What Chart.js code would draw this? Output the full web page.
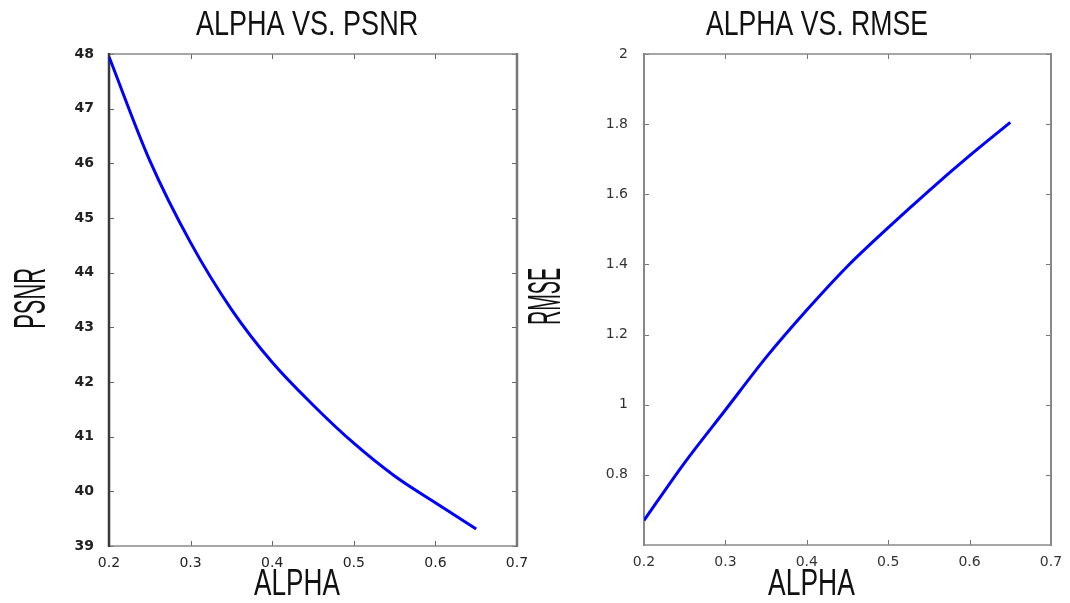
<!DOCTYPE html>
<html>
<head>
<meta charset="utf-8">
<script src="https://cdn.jsdelivr.net/npm/chart.js@4"></script>
<style>
  html, body { margin: 0; padding: 0; background: #fff; }
  #wrap { position: relative; width: 1070px; height: 603px; }
  .panel { position: absolute; top: 0; height: 603px; }
  #left { left: 0; width: 540px; }
  #right { left: 522px; width: 548px; }
</style>
</head>
<body>
<div id="wrap">
  <div class="panel" id="left"><canvas id="psnrChart" width="540" height="603"></canvas></div>
  <div class="panel" id="right"><canvas id="rmseChart" width="548" height="603"></canvas></div>
</div>
<script>
// alpha values and the two measured curves
const alpha = [0.2, 0.25, 0.3, 0.35, 0.4, 0.45, 0.5, 0.55, 0.6, 0.65];
const psnr = [47.95, 46.05, 44.55, 43.33, 42.36, 41.58, 40.88, 40.28, 39.79, 39.31];
const rmse = [0.67, 0.835, 0.985, 1.135, 1.27, 1.395, 1.505, 1.61, 1.71, 1.805];

const alphaTicks = [0.2, 0.3, 0.4, 0.5, 0.6, 0.7];
const psnrTicks = [39, 40, 41, 42, 43, 44, 45, 46, 47, 48];
const rmseTicks = [0.8, 1, 1.2, 1.4, 1.6, 1.8, 2];

const fmt = (v) => String(Number(v.toFixed(2)));

// text squeezed into a fixed box (narrow, tall lettering)
function drawStretched(ctx, text, cx, cy, w, h, rotate) {
  ctx.save();
  ctx.font = '100px "Liberation Sans Narrow", "Liberation Sans", Arial, sans-serif';
  ctx.textAlign = "left";
  ctx.textBaseline = "alphabetic";
  const m = ctx.measureText(text);
  const tw = m.actualBoundingBoxLeft + m.actualBoundingBoxRight;
  const th = m.actualBoundingBoxAscent;
  ctx.translate(cx, cy);
  if (rotate) ctx.rotate(-Math.PI / 2);
  ctx.scale(w / tw, h / th);
  ctx.fillStyle = "#111";
  ctx.fillText(text, -tw / 2 + m.actualBoundingBoxLeft, th / 2);
  ctx.restore();
}

// box round the plot with inward tick marks on all four sides
const framePlugin = {
  id: "frame",
  beforeDatasetsDraw(chart, args, opts) {
    const { ctx, chartArea: a, scales } = chart;
    ctx.save();
    ctx.strokeStyle = opts.tickColor;
    ctx.lineWidth = 1;
    const len = 5;
    scales.x.ticks.forEach(t => {
      const px = Math.round(scales.x.getPixelForValue(t.value)) + 0.5;
      ctx.beginPath();
      ctx.moveTo(px, a.bottom); ctx.lineTo(px, a.bottom - len);
      ctx.moveTo(px, a.top); ctx.lineTo(px, a.top + len);
      ctx.stroke();
    });
    scales.y.ticks.forEach(t => {
      const py = Math.round(scales.y.getPixelForValue(t.value)) + 0.5;
      ctx.beginPath();
      ctx.moveTo(a.left, py); ctx.lineTo(a.left + len, py);
      ctx.moveTo(a.right, py); ctx.lineTo(a.right - len, py);
      ctx.stroke();
    });
    const side = (x1, y1, x2, y2, color, w) => {
      ctx.strokeStyle = color;
      ctx.lineWidth = w;
      ctx.beginPath();
      ctx.moveTo(x1, y1); ctx.lineTo(x2, y2);
      ctx.stroke();
    };
    side(a.left, a.top, a.right, a.top, opts.hColor, opts.hWidth);
    side(a.left, a.bottom, a.right, a.bottom, opts.hColor, opts.hWidth);
    side(a.left, a.top - 1, a.left, a.bottom + 1, opts.leftColor, opts.vWidth);
    side(a.right, a.top - 1, a.right, a.bottom + 1, opts.rightColor, opts.vWidth);
    ctx.restore();
  },
  afterDraw(chart, args, opts) {
    const ctx = chart.ctx;
    opts.labels.forEach(l => drawStretched(ctx, l.text, l.cx, l.cy, l.w, l.h, l.rotate));
  }
};

function makeChart(canvas, values, yTicks, yMin, yMax, layout, style) {
  return new Chart(canvas, {
    type: "line",
    data: {
      datasets: [{
        data: alpha.map((a, i) => ({ x: a, y: values[i] })),
        borderColor: "#0000ff",
        borderWidth: 3,
        pointRadius: 0,
        cubicInterpolationMode: "monotone",
        fill: false
      }]
    },
    options: {
      responsive: false,
      animation: false,
      layout: { padding: { top: layout.top, right: layout.right, left: 0, bottom: 0 } },
      plugins: {
        legend: { display: false },
        tooltip: { enabled: false },
        frame: style.frame
      },
      scales: {
        x: {
          type: "linear",
          min: 0.2, max: 0.7,
          afterBuildTicks: (s) => { s.ticks = alphaTicks.map(v => ({ value: v })); },
          afterFit: (s) => {
            s.height = layout.xHeight;
            s.paddingLeft = 0;
            s.paddingRight = 0;
          },
          grid: { display: false },
          border: { display: false },
          ticks: {
            padding: 1,
            color: style.tickColor,
            font: { family: '"DejaVu Sans", sans-serif', size: 14 },
            maxRotation: 0,
            callback: (v) => fmt(v)
          }
        },
        y: {
          type: "linear",
          min: yMin, max: yMax,
          afterBuildTicks: (s) => { s.ticks = yTicks.map(v => ({ value: v })); },
          afterFit: (s) => { s.width = layout.yWidth; },
          grid: { display: false },
          border: { display: false },
          ticks: {
            padding: style.yPad,
            color: style.tickColor,
            font: { family: '"DejaVu Sans", sans-serif', size: 14, weight: style.yWeight },
            callback: (v) => fmt(v)
          }
        }
      }
    },
    plugins: [framePlugin]
  });
}

makeChart(document.getElementById("psnrChart"), psnr, psnrTicks, 39, 48,
  { top: 54, right: 23, yWidth: 109, xHeight: 57 },
  {
    tickColor: "#222", yWeight: "bold", yPad: 7,
    frame: {
      tickColor: "#666", hColor: "#888", hWidth: 1.5, vWidth: 2.5,
      leftColor: "#3a3a3a", rightColor: "#777",
      labels: [
        { text: "ALPHA VS. PSNR", cx: 306.5, cy: 22.5, w: 221, h: 25 },
        { text: "ALPHA", cx: 297, cy: 582.5, w: 86, h: 25 },
        { text: "PSNR", cx: 29, cy: 298, w: 58, h: 32, rotate: true }
      ]
    }
  });

makeChart(document.getElementById("rmseChart"), rmse, rmseTicks, 0.6, 2,
  { top: 54, right: 19, yWidth: 122, xHeight: 58 },
  {
    tickColor: "#333", yWeight: "normal", yPad: 8,
    frame: {
      tickColor: "#777", hColor: "#888", hWidth: 1.5, vWidth: 2,
      leftColor: "#888", rightColor: "#888",
      labels: [
        { text: "ALPHA VS. RMSE", cx: 816.5 - 522, cy: 22.5, w: 221, h: 25 },
        { text: "ALPHA", cx: 811.5 - 522, cy: 582, w: 87, h: 25 },
        { text: "RMSE", cx: 543 - 522, cy: 296, w: 55, h: 33, rotate: true }
      ]
    }
  });
</script>
</body>
</html>
